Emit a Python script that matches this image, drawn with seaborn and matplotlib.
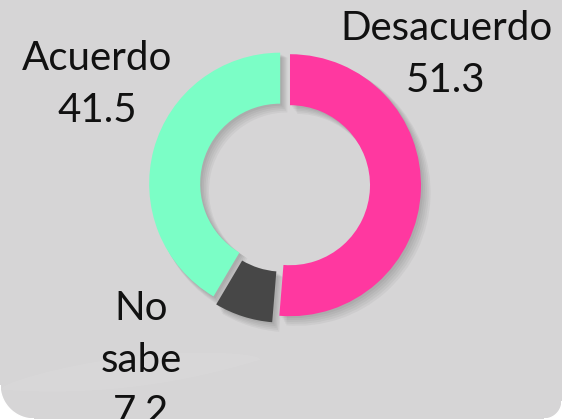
import matplotlib.pyplot as plt
from matplotlib.patches import Polygon
import seaborn as sns
import numpy as np

categories = ["Desacuerdo", "No sabe", "Acuerdo"]
values = [51.3, 7.2, 41.5]
colors = ["#ff38a0", "#474747", "#7bfec6"]

sns.set_style("white")
plt.rcParams["font.family"] = ["Lato", "DejaVu Sans"]

W, H = 562, 419
fig = plt.figure(figsize=(W / 100, H / 100), dpi=100, facecolor="#d6d5d6")
ax = fig.add_axes([0, 0, 1, 1])
ax.set_xlim(0, W)
ax.set_ylim(0, H)
ax.set_aspect("equal")
ax.axis("off")


def corner(cx, cy, r, a0):
    t = np.radians(np.linspace(a0, a0 + 90, 30))
    return np.column_stack([cx + r * np.cos(t), cy + r * np.sin(t)])


# rounded panel corners at the bottom
bl = corner(34, 34, 34, 180)
ax.add_patch(Polygon(np.vstack([[[0, 0]], bl[::-1]]), color="white", zorder=0))
br = corner(W - 18, 18, 18, 270)
ax.add_patch(Polygon(np.vstack([[[W, 0]], br[::-1]]), color="white", zorder=0))

# faint light swoosh bottom-left
t = np.linspace(0, 1, 80)
xs = 260 * t
lo = 30 + 50 * t ** 2 - 20 * t
hi = lo + 30 * np.sin(np.pi * t) ** 0.7
ax.fill_between(xs, lo, hi, color="white", alpha=0.07, lw=0, zorder=0)

center = (285, 234)
radius = 131
explode = [5, 7, 5]
ring = 51

# soft drop shadow
for k in range(5):
    off = 2 + k * 1.3
    ax.pie(values, radius=radius + k * 0.6, center=(center[0] + off, center[1] - off),
           startangle=90, counterclock=False, explode=explode,
           colors=["black"] * 3, frame=True,
           wedgeprops=dict(width=ring + k * 1.0, linewidth=0, alpha=0.04))

ax.pie(values, radius=radius, center=center, startangle=90, counterclock=False,
       explode=explode, colors=colors, frame=True,
       wedgeprops=dict(width=ring, linewidth=0))

ax.set_xlim(0, W)
ax.set_ylim(0, H)
ax.axis("off")

label_pos = [(446, H - 54), (141, H - 360), (97, H - 85)]
for cat, val, (x, y) in zip(categories, values, label_pos):
    ax.text(x, y, f"{cat.replace(' ', chr(10))}\n{val}", ha="center", va="center",
            fontsize=29, color="#111111", linespacing=1.5)

fig.savefig("out.png", dpi=100, facecolor=fig.get_facecolor())
